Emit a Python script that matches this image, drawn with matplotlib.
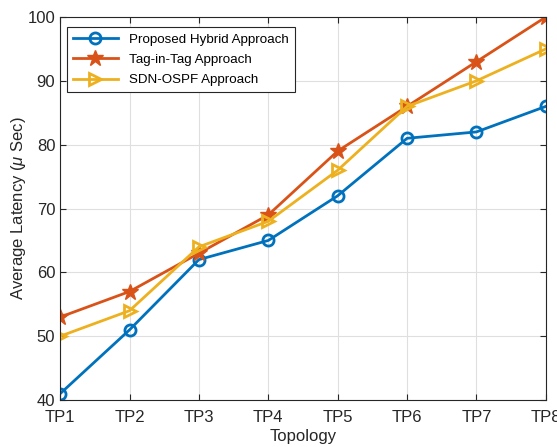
import numpy as np
import matplotlib
matplotlib.use("Agg")
from matplotlib import pyplot as plt

topologies = ["TP1", "TP2", "TP3", "TP4", "TP5", "TP6", "TP7", "TP8"]
hybrid = [41, 51, 62, 65, 72, 81, 82, 86]
tag_in_tag = [53, 57, 63, 69, 79, 86, 93, 100]
sdn_ospf = [50, 54, 64, 68, 76, 86, 90, 95]

plt.rcParams["font.family"] = ["Liberation Sans", "DejaVu Sans"]
plt.rcParams["mathtext.fontset"] = "custom"
plt.rcParams["mathtext.it"] = "Liberation Sans:italic"


def main():
    fig = plt.figure(figsize=(5.57, 4.47), dpi=100)
    ax = fig.add_axes([0.108, 0.105, 0.872, 0.857])
    x = np.arange(len(topologies))

    ax.plot(x, hybrid, color="#0072BD", lw=2, marker="o", ms=8,
            mfc="none", mew=2, label="Proposed Hybrid Approach")
    ax.plot(x, tag_in_tag, color="#D95319", lw=2, marker="*", ms=12,
            mfc="#D95319", mew=1, label="Tag-in-Tag Approach")
    ax.plot(x, sdn_ospf, color="#EDB120", lw=2, marker=">", ms=8,
            mfc="none", mew=2, label="SDN-OSPF Approach")

    ax.set_xlim(0, len(topologies) - 1)
    ax.set_ylim(40, 100)
    ax.set_xticks(x)
    ax.set_xticklabels(topologies)
    ax.set_yticks(np.arange(40, 101, 10))
    ax.tick_params(direction="in", labelsize=12, colors="#262626", length=4,
                   top=True, right=True)
    ax.tick_params(axis="x", pad=7)
    ax.grid(True, color="#dfdfdf", lw=0.8)
    ax.set_axisbelow(True)
    for s in ax.spines.values():
        s.set_color("#262626")
        s.set_linewidth(0.8)
    ax.set_xlabel("Topology", fontsize=12, color="#262626", labelpad=3)
    ax.set_ylabel(r"Average Latency ($\mu$ Sec)", fontsize=12, color="#262626",
                  labelpad=0)

    leg = ax.legend(loc="upper left", bbox_to_anchor=(0.0, 0.99), fontsize=9.6,
                    fancybox=False, framealpha=1, edgecolor="#262626",
                    handlelength=3.4, labelspacing=0.6, borderpad=0.45,
                    borderaxespad=0.5)
    leg.get_frame().set_linewidth(0.8)

    fig.savefig("out.png", dpi=100)
    plt.close(fig)


if __name__ == "__main__":
    main()
